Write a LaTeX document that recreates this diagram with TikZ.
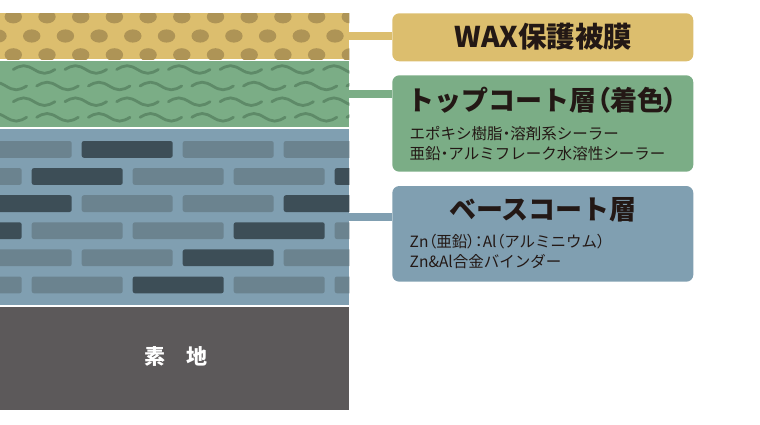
\documentclass[tikz,border=0pt]{standalone}
\usepackage{fontspec}
\setmainfont{Noto Sans CJK JP}
\newfontfamily\heavy{Noto Sans CJK JP Black}
\newcommand{\pp}[1]{{\addfontfeature{RawFeature=+palt}#1}}
\definecolor{waxbg}{RGB}{220,190,110}
\definecolor{waxdot}{RGB}{174,148,86}
\definecolor{greenbg}{RGB}{123,173,134}
\definecolor{wavec}{RGB}{94,138,104}
\definecolor{bluebg}{RGB}{128,159,177}
\definecolor{brickL}{RGB}{107,131,143}
\definecolor{brickD}{RGB}{61,78,87}
\definecolor{basec}{RGB}{92,89,90}
\definecolor{ink}{RGB}{35,24,21}
\tikzset{
  layer/.style={inner sep=0pt, outer sep=0pt, anchor=north west, minimum width=349.3pt},
  labelbox/.style={inner sep=0pt, outer sep=0pt, anchor=north west, minimum width=301pt, rounded corners=7pt},
  conn/.style={line width=8pt},
  wavy/.style={draw=wavec, line width=2.8pt, line cap=round},
  titletext/.style={font=\heavy\fontsize{27}{29}\selectfont, text=ink, inner sep=0pt},
  subtext/.style={font=\fontsize{15.5}{17}\selectfont, text=ink, inner sep=0pt, anchor=west},
  brickbox/.style={rounded corners=2.2pt}
}
\begin{document}
\begin{tikzpicture}[x=1pt,y=-1pt]
\useasboundingbox (0,0) rectangle (760,424);
% layers
\node[layer, fill=waxbg, minimum height=46.3pt] (wax) at (0,13) {};
\node[layer, fill=greenbg, minimum height=66.3pt] (top) at (0,61) {};
\node[layer, fill=bluebg, minimum height=176.2pt] (base) at (0,128.5) {};
\node[layer, fill=basec, minimum height=103.5pt] (sub) at (0,306.5) {};
% dots
\begin{scope}
\clip (0,13) rectangle (349.3,59.3);
\foreach \i in {0,...,10} {
  \fill[waxdot] (13.3+33.7*\i,16.8) ellipse [x radius=8.7, y radius=6.6];
  \fill[waxdot] (13.3+33.7*\i,54.8) ellipse [x radius=8.7, y radius=6.6];
  \fill[waxdot] (-2+33.7*\i,36) ellipse [x radius=8.7, y radius=6.6];
}
\end{scope}
% waves
\begin{scope}
\clip (0,61) rectangle (349.3,127.3);
\foreach \yy/\xs in {69.5/13.3, 86/-15, 101.7/13.3, 117.3/-15} {
  \foreach \k in {0,...,7} {
    \pgfmathsetmacro\xa{\xs+51.7*\k}
    \draw[wavy] (\xa,\yy) sin (\xa+10.4,\yy-3.8) cos (\xa+20.8,\yy) sin (\xa+31.2,\yy+3.8) cos (\xa+41.6,\yy);
  }
}
\end{scope}
% bricks
\begin{scope}
\clip (0,128.5) rectangle (349.3,304.7);
\foreach \r/\xs/\cols in {0/-19.3/{L,D,L,L}, 1/-69.3/{L,D,L,L,D}, 2/-19.3/{D,L,L,D}, 3/-69.3/{D,L,L,D,L}, 4/-19.3/{L,L,D,L}, 5/-69.3/{L,L,D,L,L}} {
  \foreach \c [count=\n from 0] in \cols {
    \pgfmathsetmacro\bx{\xs+101*\n}
    \pgfmathsetmacro\by{141+27.1*\r}
    \fill[brickbox, brick\c] (\bx,\by) rectangle (\bx+91,\by+16.8);
  }
}
\end{scope}
\node[font=\bfseries\fontsize{21}{23}\selectfont, text=white, inner sep=0pt] (sublabel) at (175.5,356.7) {素　地};
% label boxes
\node[labelbox, fill=waxbg, minimum height=48pt] (waxbox) at (392.3,13.3) {};
\node[labelbox, fill=greenbg, minimum height=96.4pt] (topbox) at (392.3,75.3) {};
\node[labelbox, fill=bluebg, minimum height=95.7pt] (basebox) at (392.3,186) {};
% connectors
\draw[conn, draw=waxbg] (wax.east) -- (waxbox.west |- wax.east);
\draw[conn, draw=greenbg] (top.east) -- (topbox.west |- top.east);
\draw[conn, draw=bluebg] (base.east) -- (basebox.west |- base.east);
% texts
\node[titletext, font=\heavy\fontsize{28.5}{30}\selectfont] (waxt) at (543.5,37) {WAX保護被膜};
\node[titletext] (topt) at (542.5,100.5) {トップコート層\pp{（}着色\pp{）}};
\node[subtext] (top1) at (409.5,133.5) {エポキシ樹脂\pp{・}溶剤系シーラー};
\node[subtext] (top2) at (409.5,153.5) {亜鉛\pp{・}アルミフレーク水溶性シーラー};
\node[titletext] (baset) at (543,210) {ベースコート層};
\node[subtext] (base1) at (409.5,241.7) {Zn\pp{（}亜鉛\pp{）：}Al\pp{（}アルミニウム\pp{）}};
\node[subtext] (base2) at (409.5,261.7) {Zn\&Al合金バインダー};
\end{tikzpicture}
\end{document}
